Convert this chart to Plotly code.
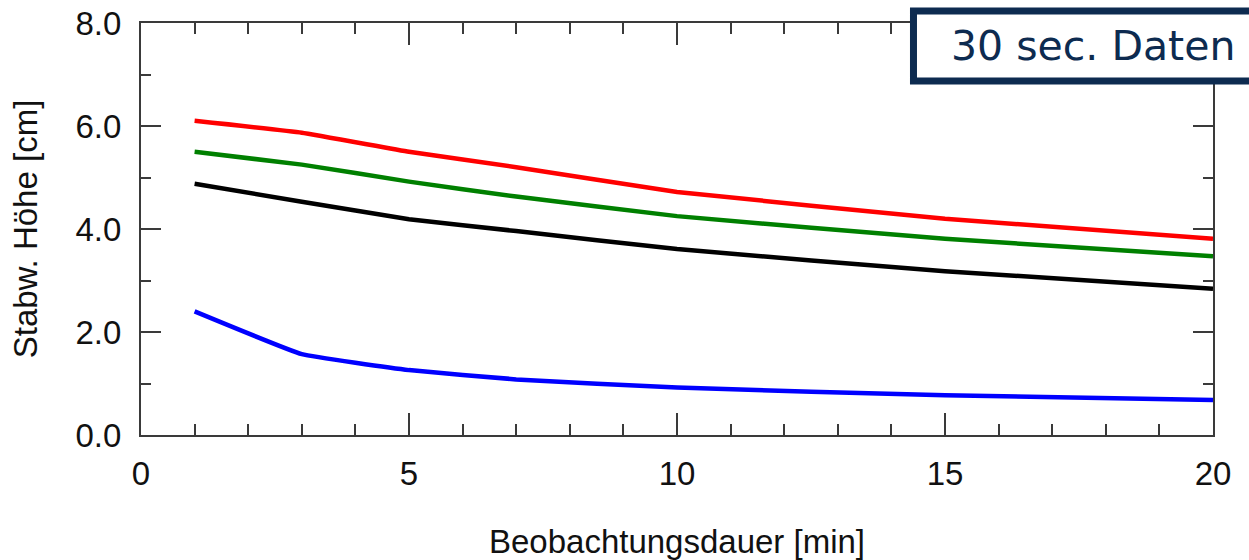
import plotly.graph_objects as go

# Data
duration_min = [1, 3, 5, 7, 10, 15, 20]
red_vals = [6.10, 5.87, 5.50, 5.20, 4.72, 4.20, 3.81]
green_vals = [5.50, 5.25, 4.92, 4.63, 4.25, 3.81, 3.47]
black_vals = [4.88, 4.53, 4.19, 3.96, 3.61, 3.18, 2.84]
blue_vals = [2.40, 1.57, 1.26, 1.08, 0.92, 0.77, 0.68]

series = [
    ("red", red_vals, "#ff0000"),
    ("green", green_vals, "#008000"),
    ("black", black_vals, "#000000"),
    ("blue", blue_vals, "#0000ff"),
]

x_title = "Beobachtungsdauer [min]"
y_title = "Stabw. Höhe [cm]"
box_text = "30 sec. Daten"

fig = go.Figure()
for name, vals, color in series:
    fig.add_trace(go.Scatter(
        x=duration_min, y=vals, mode="lines", name=name,
        line=dict(color=color, width=4.5, shape="spline", smoothing=0.3),
        showlegend=False, hoverinfo="skip",
    ))

axis_color = "#3a3a3a"
font_main = dict(family="Liberation Sans, Arial, sans-serif", size=33, color="#111111")

fig.update_layout(
    width=1249, height=560,
    margin=dict(l=141, r=36, t=23, b=125, autoexpand=False),
    paper_bgcolor="white", plot_bgcolor="white",
    font=font_main,
    xaxis=dict(
        range=[0, 20], dtick=5, tick0=0, automargin=False,
        ticks="inside", ticklen=22, tickwidth=1.5, tickcolor=axis_color,
        showline=True, linecolor=axis_color, linewidth=2, mirror="ticks",
        showgrid=False, zeroline=False,
        minor=dict(dtick=1, ticks="inside", ticklen=11, tickwidth=1.5, tickcolor=axis_color, showgrid=False),
        title=dict(text=x_title, standoff=39, font=font_main),
        tickfont=font_main,
        ticklabelstandoff=8,
        ticklabeloverflow="allow",
    ),
    yaxis=dict(
        range=[0, 8], dtick=2, tick0=0, tickformat=".1f", automargin=False,
        ticks="inside", ticklen=20, tickwidth=1.5, tickcolor=axis_color,
        showline=True, linecolor=axis_color, linewidth=2, mirror="ticks",
        showgrid=False, zeroline=False,
        minor=dict(dtick=1, ticks="inside", ticklen=10, tickwidth=1.5, tickcolor=axis_color, showgrid=False),
        title=dict(text=y_title, standoff=28, font=font_main),
        tickfont=font_main,
        ticklabelstandoff=11,
        ticklabeloverflow="allow",
    ),
    shapes=[dict(
        type="rect", xref="paper", yref="paper",
        x0=0.7206, x1=1.06, y0=0.859, y1=1.029,
        line=dict(color="#0d2b50", width=7), fillcolor="white", layer="above",
    )],
    annotations=[dict(
        text=box_text, xref="paper", yref="paper",
        x=0.8876, y=0.943, xanchor="center", yanchor="middle",
        showarrow=False,
        font=dict(family="DejaVu Sans, Verdana, sans-serif", size=41, color="#0d2b50"),
    )],
)

fig.write_html(
    "out.html",
    config={"displayModeBar": False},
    post_script="document.body.style.margin='0';document.body.style.overflow='hidden';",
)
